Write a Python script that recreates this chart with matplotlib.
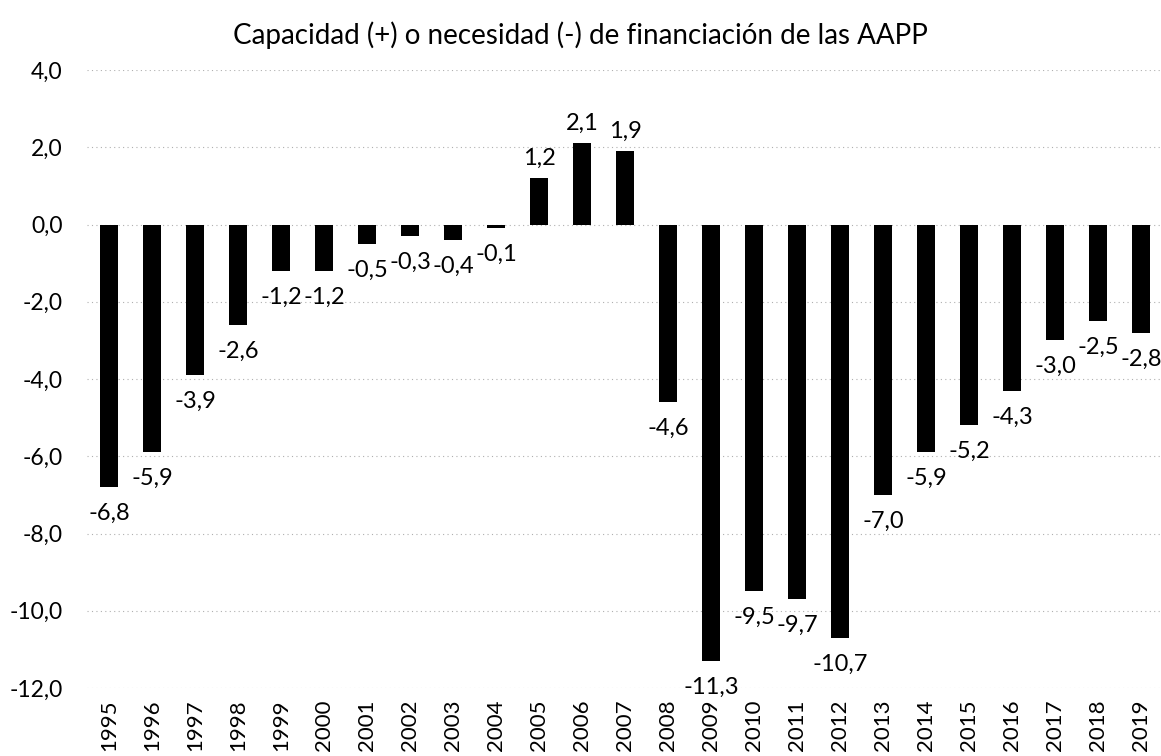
import matplotlib
matplotlib.use("Agg")
import matplotlib.pyplot as plt

years = [str(y) for y in range(1995, 2020)]
values = [-6.8, -5.9, -3.9, -2.6, -1.2, -1.2, -0.5, -0.3, -0.4, -0.1,
          1.2, 2.1, 1.9, -4.6, -11.3, -9.5, -9.7, -10.7, -7.0, -5.9,
          -5.2, -4.3, -3.0, -2.5, -2.8]
yticks = [4, 2, 0, -2, -4, -6, -8, -10, -12]
title = "Capacidad (+) o necesidad (-) de financiación de las AAPP"

plt.rcParams['font.family'] = ['Lato', 'DejaVu Sans']

W, H = 1161, 756
fig = plt.figure(figsize=(W / 100, H / 100), dpi=100)
ax = fig.add_axes([87.5 / W, 68 / H, 1075 / W, 618 / H])

x = list(range(len(years)))
ax.bar(x, values, width=0.42, color='black', zorder=3)

ax.set_xlim(-0.5, len(years) - 0.5)
ax.set_ylim(-12, 4)
ax.set_yticks(yticks)
ax.set_yticklabels([f"{v:.1f}".replace('.', ',') for v in yticks], fontsize=16.5)
ax.set_xticks(x)
ax.set_xticklabels(years, rotation=90, fontsize=16)
ax.tick_params(axis='both', length=0)
ax.tick_params(axis='y', pad=18)
ax.tick_params(axis='x', pad=8)
for s in ax.spines.values():
    s.set_visible(False)
ax.yaxis.grid(True, color='#b0b0b0', linestyle=(0, (1, 3)), linewidth=0.8, zorder=0)
ax.set_axisbelow(True)

for xi, v in zip(x, values):
    off = 14.5 if v > 0 else -19
    ax.annotate(f"{v:.1f}".replace('.', ','), (xi, v),
                xytext=(0, off), textcoords='offset points',
                ha='center', va='center', fontsize=17, color='black')

fig.text(0.5, 1 - 35 / H, title, ha='center', va='center', fontsize=20)

fig.savefig("out.png", dpi=100)
